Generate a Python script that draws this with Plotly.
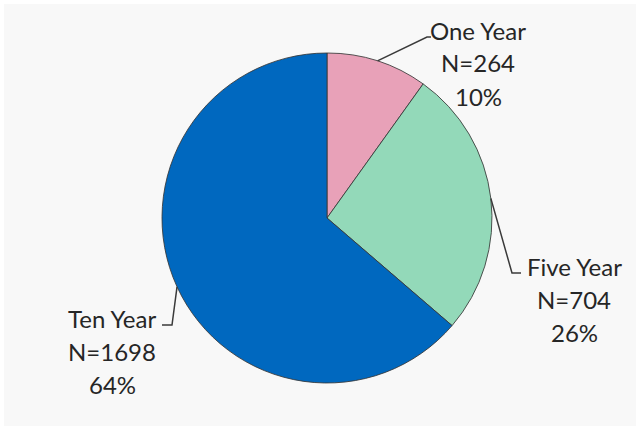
import math
import plotly.graph_objects as go

# Survey respondents by follow-up group
categories = ["One Year", "Five Year", "Ten Year"]
counts = [264, 704, 1698]
colors = ["#E8A1B8", "#93D9B9", "#0068BF"]

W, H = 640, 430
# pie centre / radius in pixels
CX, CY, R = 327, 218, 165

# label layout: elbow point of the leader line, end of the short tail, text centre
elbows = [(427, 37), (512, 273), (172, 325)]
tails = [(431, 37), (521, 273), (162, 325)]
text_centres = [(478, 30), (574, 266), (112, 318)]
LINE_STEP = 33


def px(x):
    return x / W


def py(y):
    return (H - y) / H


fig = go.Figure()
fig.add_trace(go.Pie(
    labels=categories,
    values=counts,
    sort=False,
    direction="clockwise",
    rotation=0,
    marker=dict(colors=colors, line=dict(color="rgba(55,55,55,0.85)", width=1)),
    textinfo="none",
    hoverinfo="label+value+percent",
    showlegend=False,
    domain=dict(x=[px(CX - R), px(CX + R)], y=[py(CY + R), py(CY - R)]),
))

total = sum(counts)
shapes = []
annotations = []
start = 0.0
for name, n, elbow, tail, (tx, ty) in zip(categories, counts, elbows, tails, text_centres):
    frac = n / total
    mid = (start + frac / 2) * 2 * math.pi
    start += frac
    ex, ey = CX + R * math.sin(mid), CY - R * math.cos(mid)
    path = (f"M {px(ex)},{py(ey)} L {px(elbow[0])},{py(elbow[1])} "
            f"L {px(tail[0])},{py(tail[1])}")
    shapes.append(dict(type="path", xref="paper", yref="paper", path=path,
                       line=dict(color="#3a3a3a", width=1.5)))
    lines = [name, f"N={n}", f"{round(frac * 100)}%"]
    for i, txt in enumerate(lines):
        annotations.append(dict(
            x=px(tx), y=py(ty + i * LINE_STEP), xref="paper", yref="paper",
            text=txt, showarrow=False, xanchor="center", yanchor="middle",
            font=dict(family="Lato", size=24, color="#262626"),
        ))

# thin white frame round the light panel
shapes.append(dict(type="rect", xref="paper", yref="paper", x0=0, y0=0, x1=1, y1=1,
                   line=dict(color="white", width=8), fillcolor="rgba(0,0,0,0)"))

fig.update_layout(
    width=W, height=H,
    margin=dict(l=0, r=0, t=0, b=0),
    paper_bgcolor="#f8f8f8",
    plot_bgcolor="#f8f8f8",
    shapes=shapes,
    annotations=annotations,
)

fig.write_html("out.html")
